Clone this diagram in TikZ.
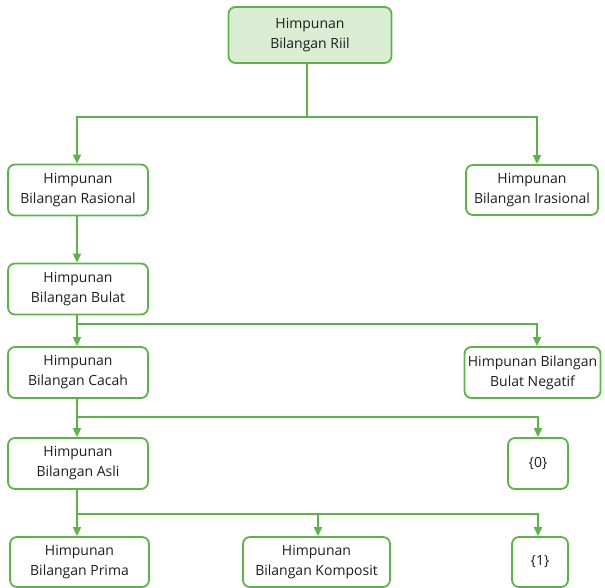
\documentclass[tikz,border=0pt]{standalone}
\usepackage{fontspec}
\setmainfont{Open Sans}
\usepackage{xcolor}
\usetikzlibrary{positioning,calc,arrows.meta}

\definecolor{setgreen}{RGB}{92,180,72}
\definecolor{setfill}{RGB}{218,236,210}
\definecolor{settext}{RGB}{30,30,30}

\tikzset{
    setbox/.style={draw=setgreen, line width=1.8pt, rounded corners=7pt, fill=white,
        align=center, inner sep=1pt, minimum height=51pt, text=settext,
        font=\fontsize{14}{20}\selectfont},
    link/.style={draw=setgreen, line width=1.8pt},
    arrow/.style={link, -{Triangle[width=8pt,length=9pt]}}
}

\begin{document}
\begin{tikzpicture}[x=1pt, y=1pt]
    \useasboundingbox (0,0) rectangle (605,-588);

    \node[setbox, fill=setfill, minimum width=163pt, minimum height=56pt] (riil) at (310,-35) {Himpunan\\Bilangan Riil};
    \node[setbox, minimum width=140pt] (rasional) at (78,-190) {Himpunan\\Bilangan Rasional};
    \node[setbox, minimum width=132pt, minimum height=50pt] (irasional) at (532,-190) {Himpunan\\Bilangan Irasional};
    \node[setbox, minimum width=140pt] (bulat) at (78,-289) {Himpunan\\Bilangan Bulat};
    \node[setbox, minimum width=140pt] (cacah) at (78,-372.5) {Himpunan\\Bilangan Cacah};
    \node[setbox, minimum width=136pt] (negatif) at (532.5,-372.5) {Himpunan Bilangan\\Bulat Negatif};
    \node[setbox, minimum width=140pt] (asli) at (78,-463.5) {Himpunan\\Bilangan Asli};
    \node[setbox, minimum width=60pt] (nol) at (538,-463.5) {\{0\}};
    \node[setbox, minimum width=139pt, minimum height=50pt] (prima) at (79.5,-562) {Himpunan\\Bilangan Prima};
    \node[setbox, minimum width=147pt, minimum height=50pt] (komposit) at (316.5,-562) {Himpunan\\Bilangan Komposit};
    \node[setbox, minimum width=56pt, minimum height=50pt] (satu) at (540,-562) {\{1\}};

    % branch points
    \coordinate (j1) at (307,-117);
    \coordinate (j2) at (77,-324);
    \coordinate (j3) at (77,-417);
    \coordinate (j4) at (77,-514);

    \draw[link] (riil.south -| j1) -- (j1);
    \draw[arrow] (j1) -| (rasional.north -| j2);
    \draw[arrow] (j1) -| ([xshift=5pt]irasional.north);

    \draw[arrow] (rasional.south -| j2) -- (bulat.north -| j2);

    \draw[arrow] (bulat.south -| j2) -- (cacah.north -| j2);
    \draw[arrow] (j2) -| ([xshift=4.5pt]negatif.north);

    \draw[arrow] (cacah.south -| j3) -- (asli.north -| j3);
    \draw[arrow] (j3) -| (nol.north);

    \draw[arrow] (asli.south -| j4) -- (prima.north -| j4);
    \draw[arrow] (j4) -| ([xshift=1.5pt]komposit.north);
    \draw[arrow] (j4) -| ([xshift=-2pt]satu.north);
\end{tikzpicture}
\end{document}
